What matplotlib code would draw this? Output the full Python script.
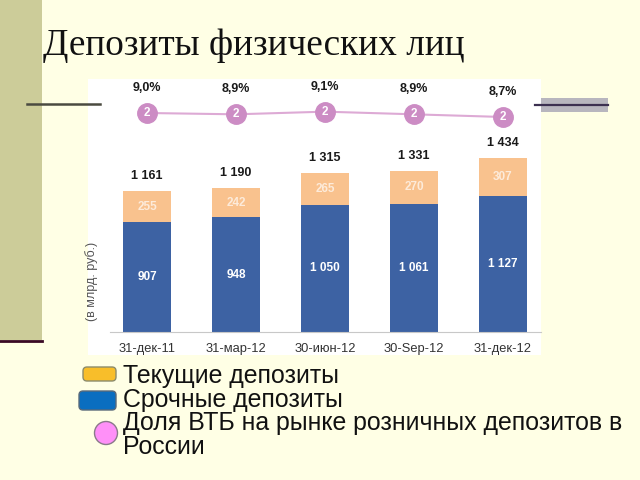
import matplotlib
matplotlib.use('Agg')
import matplotlib.pyplot as plt
from matplotlib.patches import Rectangle, FancyBboxPatch, Circle

plt.rcParams['font.family'] = ['Liberation Sans', 'DejaVu Sans']

# данные
dates = ['31-дек-11', '31-мар-12', '30-июн-12', '30-Sep-12', '31-дек-12']
srochnye = [907, 948, 1050, 1061, 1127]
tekushie = [255, 242, 265, 270, 307]
itogo = [1161, 1190, 1315, 1331, 1434]
dolya = [9.0, 8.9, 9.1, 8.9, 8.7]
dolya_txt = ['9,0%', '8,9%', '9,1%', '8,9%', '8,7%']


def fmt(v):
    return f'{v:,}'.replace(',', ' ')


fig = plt.figure(figsize=(6.4, 4.8), dpi=100, facecolor='#FFFFE5')

# фон слайда (в пикселях)
bg = fig.add_axes([0, 0, 1, 1])
bg.set_xlim(0, 640)
bg.set_ylim(480, 0)
bg.axis('off')
bg.add_patch(Rectangle((0, 0), 42, 340, color='#CCCC99', lw=0))
bg.plot([0, 42], [341, 341], color='#3A0A25', lw=2)
bg.plot([27, 100], [104, 104], color='#4A4A40', lw=1.8)
bg.add_patch(Rectangle((535, 98), 73, 14, color='#B8B6BE', lw=0))
bg.plot([535, 608], [104.5, 104.5], color='#3C3050', lw=1.6)
bg.add_patch(Rectangle((88, 79), 453, 276, color='white', lw=0))
bg.text(43, 46, 'Депозиты физических лиц', family='Liberation Serif',
        fontsize=26.8, va='center', ha='left', color='#111111')

# легенда
bg.add_patch(FancyBboxPatch((83, 367), 33, 14, boxstyle='round,pad=0,rounding_size=4',
                            fc='#F8BE2A', ec='#8C8C6C', lw=1))
bg.add_patch(FancyBboxPatch((79, 391), 37, 19, boxstyle='round,pad=0,rounding_size=4',
                            fc='#0A6EC0', ec='#5A6A7A', lw=1))
bg.add_patch(Circle((106, 433), 11.5, fc='#FF90F8', ec='#8A7A8A', lw=1))
leg_items = ['Текущие депозиты', 'Срочные депозиты',
             'Доля ВТБ на рынке розничных депозитов в', 'России']
for i, t in enumerate(leg_items):
    bg.text(123, 376 + i * 23.7, t, fontsize=17.9, va='center', ha='left', color='#111111')

# график
ax = fig.add_axes([88 / 640, (480 - 332) / 480, 453 / 640, 253 / 480])
ax.set_facecolor('none')
x = list(range(len(dates)))
w = 0.53
ax.bar(x, srochnye, w, color='#3D62A3', zorder=2)
ax.bar(x, tekushie, w, bottom=srochnye, color='#F9C28E', zorder=2)
ax.set_xlim(-0.663, 4.427)
ax.set_ylim(0, 2091)

for i in x:
    ax.text(i, srochnye[i] / 2, fmt(srochnye[i]), ha='center', va='center',
            color='white', fontsize=8.5, fontweight='bold')
    ax.text(i, srochnye[i] + tekushie[i] / 2, fmt(tekushie[i]), ha='center', va='center',
            color='#FDEBDA', fontsize=8.5, fontweight='bold')
    ax.annotate(fmt(itogo[i]), (i, srochnye[i] + tekushie[i]), xytext=(0, 11),
                textcoords='offset points', ha='center', va='center',
                fontsize=9, fontweight='bold', color='#1A1A1A')

for s in ['left', 'right', 'top']:
    ax.spines[s].set_visible(False)
ax.spines['bottom'].set_color('#C8C8C8')
ax.spines['bottom'].set_bounds(-0.42, 4.427)
ax.set_yticks([])
ax.set_xticks(x)
ax.set_xticklabels(dates, fontsize=9.3, color='#333333')
ax.tick_params(axis='x', length=0, pad=8)
ax.set_ylabel('(в млрд. руб.)', fontsize=9, color='#555555')
ax.yaxis.set_label_coords(0.022, 0.2)

# доля ВТБ
ax2 = ax.twinx()
ax2.set_ylim(-7.43, 11.55)
ax2.axis('off')
ax2.plot(x, dolya, color='#DDAAD5', lw=1.5, marker='o', markersize=14,
         markerfacecolor='#CC8CC4', markeredgecolor='#CC8CC4', zorder=3)
for i in x:
    ax2.text(i, dolya[i], '2', ha='center', va='center', color='white',
             fontsize=8.5, fontweight='bold', zorder=4)
    ax2.annotate(dolya_txt[i], (i, dolya[i]), xytext=(0, 18), textcoords='offset points',
                 ha='center', va='center', fontsize=9, fontweight='bold', color='#1A1A1A')

fig.savefig('out.png', dpi=100, facecolor=fig.get_facecolor())
